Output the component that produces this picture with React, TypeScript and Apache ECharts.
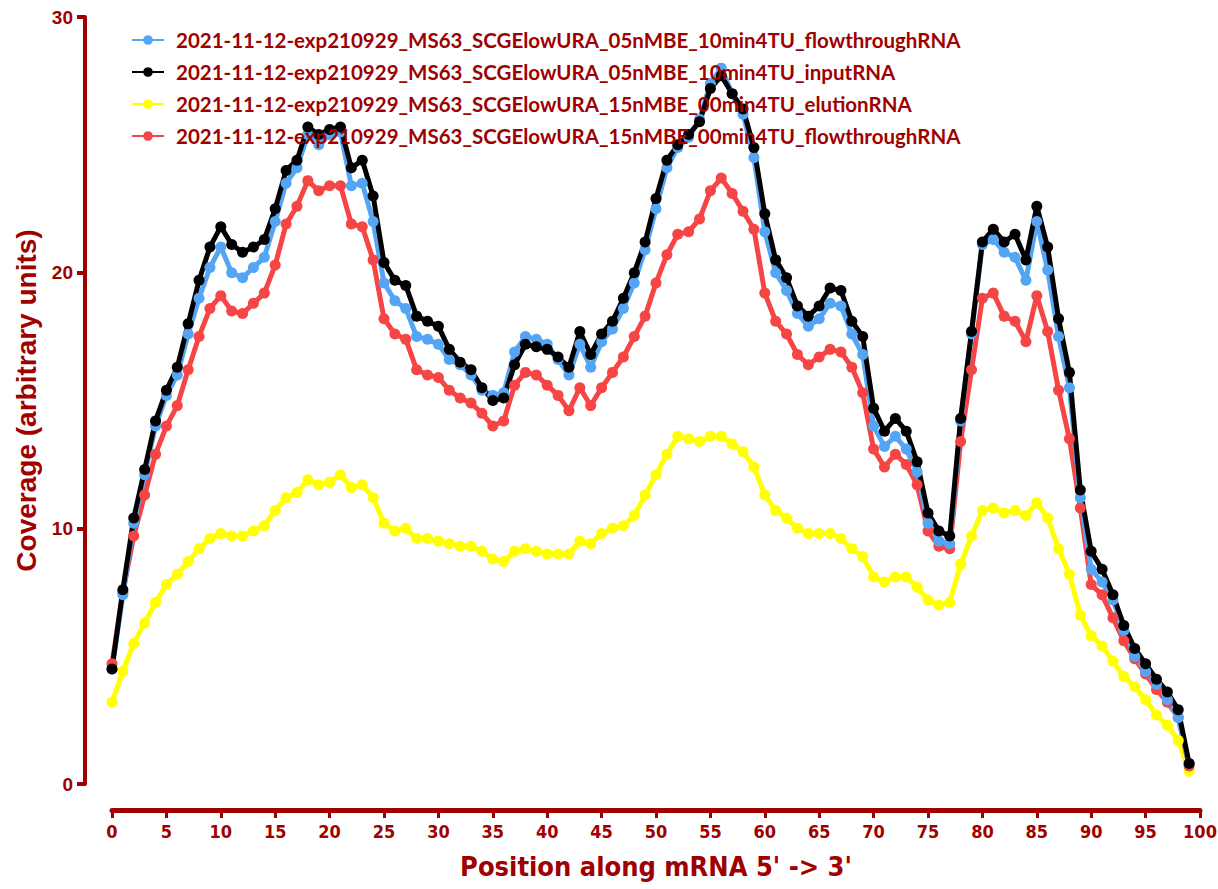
import React, { useEffect, useRef } from "react";
import * as echarts from "echarts";

const DARK_RED = "#a00000";

const positions = Array.from({ length: 100 }, (_, i) => i);

const seriesNames = [
  "2021-11-12-exp210929_MS63_SCGElowURA_05nMBE_10min4TU_flowthroughRNA",
  "2021-11-12-exp210929_MS63_SCGElowURA_05nMBE_10min4TU_inputRNA",
  "2021-11-12-exp210929_MS63_SCGElowURA_15nMBE_00min4TU_elutionRNA",
  "2021-11-12-exp210929_MS63_SCGElowURA_15nMBE_00min4TU_flowthroughRNA",
];

const seriesColors = ["#55a5f5", "#000000", "#ffff00", "#f54545"];

const flowthrough05 = [
  4.5, 7.4, 10.2, 12.1, 14.0, 15.2, 16.0, 17.6, 19.0, 20.2,
  21.0, 20.0, 19.8, 20.2, 20.6, 22.0, 23.5, 24.1, 25.4, 25.0,
  25.4, 25.5, 23.4, 23.5, 22.0, 19.6, 18.9, 18.6, 17.5, 17.4,
  17.2, 16.6, 16.4, 16.0, 15.4, 15.2, 15.3, 16.9, 17.5, 17.4,
  17.2, 16.6, 16.0, 17.2, 16.3, 17.3, 17.8, 18.6, 19.6, 20.9,
  22.5, 24.1, 24.9, 25.3, 26.0, 27.4, 28.0, 27.0, 26.2, 24.5,
  21.6, 20.0, 19.3, 18.4, 17.9, 18.2, 18.8, 18.7, 17.6, 16.8,
  14.0, 13.2, 13.6, 13.1, 12.2, 10.2, 9.5, 9.4, 14.2, 17.6,
  21.1, 21.3, 20.8, 20.6, 19.7, 22.0, 20.1, 17.5, 15.5, 11.2,
  8.4, 7.9, 7.2, 6.0, 5.0, 4.4, 3.9, 3.3, 2.6, 0.8,
];

const input05 = [
  4.5, 7.6, 10.4, 12.3, 14.2, 15.4, 16.3, 18.0, 19.7, 21.0,
  21.8, 21.1, 20.8, 21.0, 21.3, 22.5, 24.0, 24.4, 25.7, 25.4,
  25.6, 25.7, 24.1, 24.4, 23.0, 20.4, 19.7, 19.5, 18.3, 18.1,
  17.9, 17.0, 16.5, 16.2, 15.5, 15.0, 15.1, 16.4, 17.2, 17.1,
  17.0, 16.7, 16.3, 17.7, 16.8, 17.6, 18.1, 19.0, 20.0, 21.2,
  22.9, 24.4, 25.0, 25.4, 25.9, 27.2, 27.7, 27.0, 26.4, 24.9,
  22.3, 20.5, 19.8, 18.7, 18.3, 18.7, 19.4, 19.3, 18.1, 17.5,
  14.7, 13.8, 14.3, 13.8, 12.6, 10.6, 9.9, 9.7, 14.3, 17.7,
  21.2, 21.7, 21.2, 21.5, 20.5, 22.6, 21.0, 18.2, 16.1, 11.5,
  9.1, 8.4, 7.4, 6.2, 5.3, 4.7, 4.1, 3.6, 2.9, 0.8,
];

const elution15 = [
  3.2, 4.4, 5.5, 6.3, 7.1, 7.8, 8.2, 8.7, 9.2, 9.6,
  9.8, 9.7, 9.7, 9.9, 10.1, 10.7, 11.2, 11.4, 11.9, 11.7,
  11.8, 12.1, 11.6, 11.7, 11.2, 10.2, 9.9, 10.0, 9.6, 9.6,
  9.5, 9.4, 9.3, 9.3, 9.1, 8.8, 8.7, 9.1, 9.2, 9.1,
  9.0, 9.0, 9.0, 9.5, 9.4, 9.8, 10.0, 10.1, 10.5, 11.3,
  12.1, 12.9, 13.6, 13.5, 13.4, 13.6, 13.6, 13.3, 13.0, 12.4,
  11.3, 10.7, 10.4, 10.0, 9.8, 9.8, 9.8, 9.6, 9.2, 8.9,
  8.1, 7.9, 8.1, 8.1, 7.7, 7.2, 7.0, 7.1, 8.6, 9.7,
  10.7, 10.8, 10.6, 10.7, 10.5, 11.0, 10.4, 9.2, 8.2, 6.6,
  5.8, 5.4, 4.8, 4.2, 3.8, 3.3, 2.7, 2.3, 1.7, 0.5,
];

const flowthrough15 = [
  4.7, 7.5, 9.7, 11.3, 12.9, 14.0, 14.8, 16.2, 17.5, 18.6,
  19.1, 18.5, 18.4, 18.8, 19.2, 20.3, 21.9, 22.6, 23.6, 23.2,
  23.4, 23.4, 21.9, 21.8, 20.5, 18.2, 17.6, 17.4, 16.2, 16.0,
  15.9, 15.4, 15.1, 14.9, 14.5, 14.0, 14.2, 15.6, 16.1, 16.0,
  15.6, 15.2, 14.6, 15.5, 14.8, 15.5, 16.1, 16.7, 17.5, 18.3,
  19.6, 20.7, 21.5, 21.6, 22.1, 23.2, 23.7, 23.1, 22.4, 21.7,
  19.2, 18.1, 17.6, 16.8, 16.4, 16.7, 17.0, 16.9, 16.3, 15.3,
  13.1, 12.4, 12.9, 12.5, 11.7, 9.9, 9.3, 9.2, 13.4, 16.2,
  19.0, 19.2, 18.3, 18.1, 17.3, 19.1, 17.7, 15.4, 13.5, 10.8,
  7.8, 7.4, 6.5, 5.6, 4.9, 4.3, 3.7, 3.2, 2.6, 0.7,
];

const seriesValues = [flowthrough05, input05, elution15, flowthrough15];

// drawing order: yellow at the back, black on top
const drawOrder = [2, 3, 0, 1];

function App() {
  const chartRef = useRef<HTMLDivElement>(null);

  useEffect(() => {
    const myChart = echarts.init(chartRef.current!, null, { renderer: "svg" });

    const series: any[] = drawOrder.map((k) => ({
      name: seriesNames[k],
      type: "line",
      data: positions.map((p, i) => [p, seriesValues[k][i]]),
      symbol: "circle",
      symbolSize: 11,
      color: seriesColors[k],
      lineStyle: { width: 5, color: seriesColors[k] },
      itemStyle: { color: seriesColors[k] },
    }));

    const option: echarts.EChartsOption = {
      animation: false,
      backgroundColor: "#ffffff",
      grid: {
        left: 112,
        right: 18,
        top: 17,
        bottom: 105,
        outerBoundsMode: "none",
      } as any,
      legend: {
        data: seriesNames,
        orient: "vertical",
        left: 126,
        top: 24,
        itemWidth: 32,
        itemHeight: 12,
        itemGap: 10,
        textStyle: {
          color: DARK_RED,
          fontFamily: "Lato",
          fontWeight: "bold",
          fontSize: 20.5,
          lineHeight: 22,
          padding: [0, 0, 0, 7],
        },
      },
      xAxis: {
        type: "value",
        min: 0,
        max: 100,
        interval: 5,
        offset: 26,
        name: "Position along mRNA 5' -> 3'",
        nameLocation: "middle",
        nameGap: 43,
        nameTextStyle: {
          color: DARK_RED,
          fontFamily: "'Liberation Sans Narrow', 'DejaVu Sans Condensed', sans-serif",
          fontWeight: "bold",
          fontSize: 27,
        },
        axisLine: { show: true, onZero: false, lineStyle: { color: DARK_RED, width: 5 } },
        axisTick: { show: true, length: 8, lineStyle: { color: DARK_RED, width: 3 } },
        axisLabel: {
          color: DARK_RED,
          fontFamily: "'Liberation Sans Narrow', 'DejaVu Sans Condensed', sans-serif",
          fontWeight: "bold",
          fontSize: 18,
          margin: 12,
        },
        splitLine: { show: false },
      },
      yAxis: {
        type: "value",
        min: 0,
        max: 30,
        interval: 10,
        offset: 27,
        name: "Coverage (arbitrary units)",
        nameLocation: "middle",
        nameGap: 44,
        nameTextStyle: {
          color: DARK_RED,
          fontFamily: "'Liberation Sans', Arial, sans-serif",
          fontWeight: "bold",
          fontSize: 28,
        },
        axisLine: { show: true, onZero: false, lineStyle: { color: DARK_RED, width: 4 } },
        axisTick: { show: true, length: 8, lineStyle: { color: DARK_RED, width: 4 } },
        axisLabel: {
          color: DARK_RED,
          fontFamily: "'Liberation Sans', Arial, sans-serif",
          fontWeight: "bold",
          fontSize: 19,
          margin: 12,
        },
        splitLine: { show: false },
      },
      series,
    };

    myChart.setOption(option);

    return () => {
      myChart.dispose();
    };
  }, []);

  return (
    <div
      ref={chartRef}
      style={{ position: "fixed", left: 0, top: 0, width: 1218, height: 889 }}
    />
  );
}

export default App;
